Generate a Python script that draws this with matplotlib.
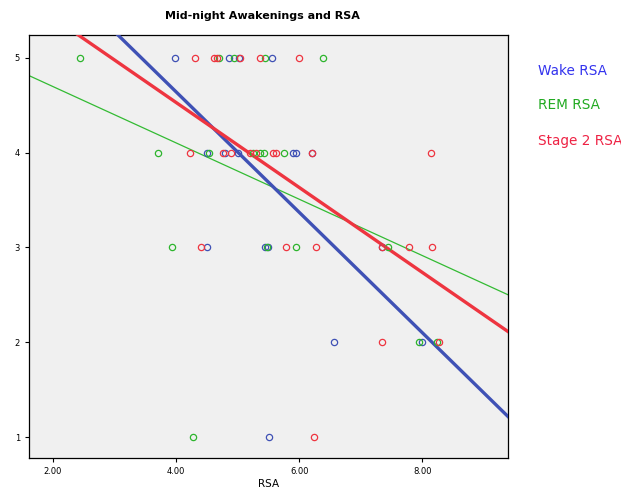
import matplotlib
matplotlib.use('Agg')
import matplotlib.pyplot as plt
import numpy as np

# awakenings (y) vs RSA (x) for each sleep stage
wake_x = [3.98, 4.86, 5.02, 5.56, 4.50, 4.79, 5.00, 5.90, 5.94, 6.20,
          4.50, 5.44, 5.50, 7.34, 6.56, 7.99, 5.51]
wake_y = [5, 5, 5, 5, 4, 4, 4, 4, 4, 4,
          3, 3, 3, 3, 2, 2, 1]

rem_x = [2.44, 4.70, 4.94, 5.44, 6.38, 3.70, 4.53, 5.25, 5.36, 5.42, 5.75,
         3.93, 5.47, 5.94, 7.44, 7.94, 8.23, 4.27]
rem_y = [5, 5, 5, 5, 5, 4, 4, 4, 4, 4, 4,
         3, 3, 3, 3, 2, 2, 1]

stage2_x = [4.31, 4.62, 4.66, 5.04, 5.36, 5.99, 4.22, 4.76, 4.89, 5.20, 5.30,
            5.57, 5.63, 6.20, 8.14, 4.40, 5.78, 6.27, 7.34, 7.78, 8.15,
            7.34, 8.27, 6.24]
stage2_y = [5, 5, 5, 5, 5, 5, 4, 4, 4, 4, 4,
            4, 4, 4, 4, 3, 3, 3, 3, 3, 3,
            2, 2, 1]

# fit lines (intercept, slope)
wake_fit = (7.18, -0.635)
rem_fit = (5.29, -0.297)
stage2_fit = (6.32, -0.448)

x_ticks = [2.0, 4.0, 6.0, 8.0]
y_ticks = [1, 2, 3, 4, 5]

blue = '#3f51b5'
green = '#2db52d'
red = '#ee3540'

fig = plt.figure(figsize=(6.21, 4.88), dpi=100)
ax = fig.add_axes([0.0467, 0.0615, 0.7713, 0.8668])
ax.set_facecolor('#f0f0f0')

xlim = (1.61, 9.39)
ax.set_xlim(xlim)
ax.set_ylim(0.78, 5.24)

xs = np.array(xlim)
ax.plot(xs, rem_fit[0] + rem_fit[1] * xs, color='#33bb33', lw=0.9, zorder=2)
ax.plot(xs, wake_fit[0] + wake_fit[1] * xs, color=blue, lw=2.4, zorder=3)
ax.plot(xs, stage2_fit[0] + stage2_fit[1] * xs, color=red, lw=2.4, zorder=4)

ms = 4.5
ax.plot(wake_x, wake_y, 'o', mfc='none', mec=blue, ms=ms, mew=0.9, zorder=5)
ax.plot(rem_x, rem_y, 'o', mfc='none', mec=green, ms=ms, mew=0.9, zorder=5)
ax.plot(stage2_x, stage2_y, 'o', mfc='none', mec=red, ms=ms, mew=0.9, zorder=5)

ax.set_xticks(x_ticks)
ax.set_xticklabels([f'{v:.2f}' for v in x_ticks])
ax.set_yticks(y_ticks)
ax.tick_params(labelsize=6, length=3, width=0.8)
for s in ax.spines.values():
    s.set_linewidth(0.9)

ax.set_xlabel('RSA', fontsize=7.5, labelpad=2)
fig.text(0.423, 0.968, 'Mid-night Awakenings and RSA', ha='center', va='center',
         fontsize=8, fontweight='bold')

fig.text(0.866, 0.855, 'Wake RSA', color='#3333ee', fontsize=9.8, va='center')
fig.text(0.866, 0.785, 'REM RSA', color='#22aa22', fontsize=9.8, va='center')
fig.text(0.866, 0.711, 'Stage 2 RSA', color='#ee2244', fontsize=9.8, va='center')

fig.savefig('out.png', dpi=100)
